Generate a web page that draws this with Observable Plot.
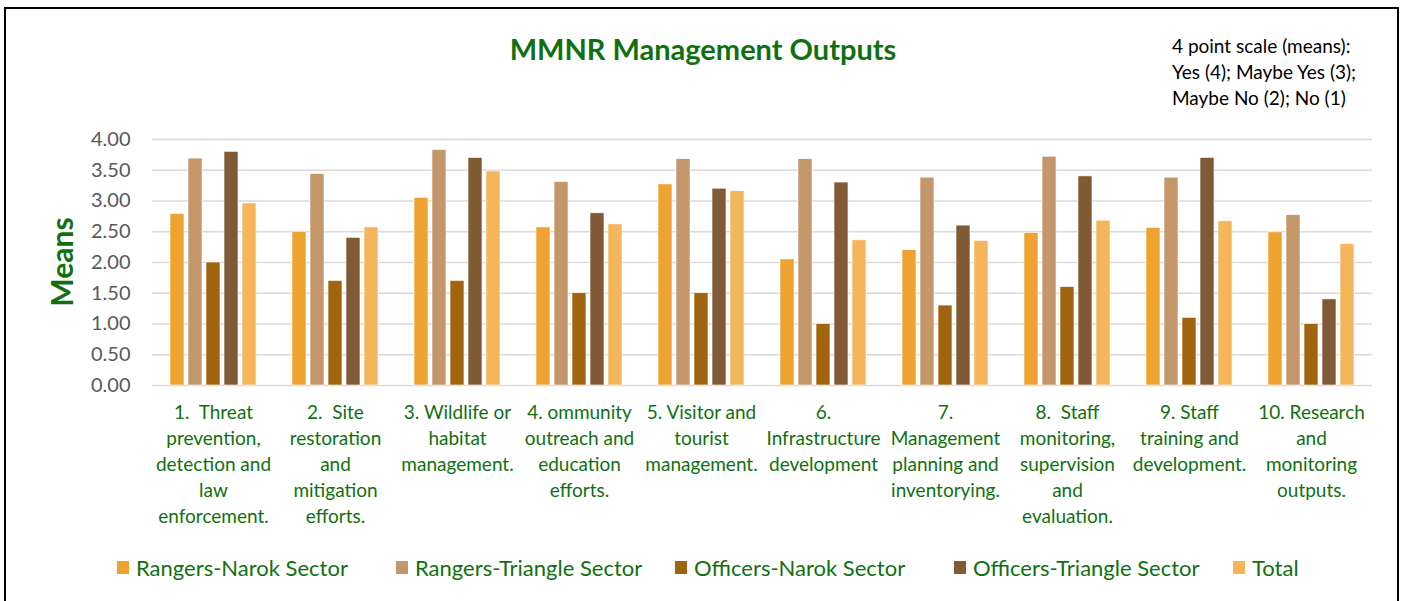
<!DOCTYPE html>
<html><head><meta charset="utf-8">
<script src="https://cdn.jsdelivr.net/npm/d3@7"></script>
<script src="https://cdn.jsdelivr.net/npm/@observablehq/plot@0.6"></script>
<style>
body{margin:0;background:#fff;font-family:Lato,"Open Sans",sans-serif;}
#wrap{position:relative;width:1406px;height:601px;overflow:hidden;background:#fff;}
#frame{position:absolute;left:4px;top:7px;width:1395px;height:640px;border:2px solid #000;box-sizing:border-box;pointer-events:none;}
#chart{position:absolute;left:0;top:0;}
#title{position:absolute;left:0;width:1406px;top:31px;text-align:center;font-weight:700;font-size:29px;color:#107010;}
#note{position:absolute;left:1172px;top:33px;font-size:19px;line-height:26px;color:#000;}
#ylab{position:absolute;left:61px;top:262px;transform:translate(-50%,-50%) rotate(-90deg);font-weight:700;font-size:30px;color:#107010;white-space:nowrap;}
#legend{position:absolute;left:117px;top:554px;display:flex;font-size:22px;color:#107010;}
.item{width:279px;display:flex;align-items:center;white-space:nowrap;}
.sw{width:12px;height:13px;margin-right:7px;flex:none;}
</style>
</head><body>
<div id="wrap">
  <div id="chart"></div>
  <div id="title"></div>
  <div id="note"></div>
  <div id="ylab"></div>
  <div id="legend"></div>
  <div id="frame"></div>
</div>
<script>
const titleText = "MMNR Management Outputs";
const noteLines = ["4 point scale (means):", "Yes (4); Maybe Yes (3);", "Maybe No (2); No (1)"];
const yLabel = "Means";

const categories = [
  "1. Threat prevention, detection and law enforcement.",
  "2. Site restoration and mitigation efforts.",
  "3. Wildlife or habitat management.",
  "4. ommunity outreach and education efforts.",
  "5. Visitor and tourist management.",
  "6. Infrastructure development",
  "7. Management planning and inventorying.",
  "8. Staff monitoring, supervision and evaluation.",
  "9. Staff training and development.",
  "10. Research and monitoring outputs."
];
const tickLabels = [
  "1.  Threat\nprevention,\ndetection and\nlaw\nenforcement.",
  "2.  Site\nrestoration\nand\nmitigation\nefforts.",
  "3. Wildlife or\nhabitat\nmanagement.",
  "4. ommunity\noutreach and\neducation\nefforts.",
  "5. Visitor and\ntourist\nmanagement.",
  "6.\nInfrastructure\ndevelopment",
  "7.\nManagement\nplanning and\ninventorying.",
  "8.  Staff\nmonitoring,\nsupervision\nand\nevaluation.",
  "9. Staff\ntraining and\ndevelopment.",
  "10. Research\nand\nmonitoring\noutputs."
];
const series = ["Rangers-Narok Sector", "Rangers-Triangle Sector", "Officers-Narok Sector", "Officers-Triangle Sector", "Total"];
const colors = ["#EEA22F", "#C4976B", "#A0640E", "#805A35", "#F4B55B"];

const rangersNarok     = [2.79, 2.50, 3.05, 2.57, 3.27, 2.05, 2.20, 2.48, 2.56, 2.49];
const rangersTriangle  = [3.69, 3.44, 3.83, 3.31, 3.68, 3.68, 3.38, 3.72, 3.38, 2.77];
const officersNarok    = [2.00, 1.70, 1.70, 1.50, 1.50, 1.00, 1.30, 1.60, 1.10, 1.00];
const officersTriangle = [3.80, 2.40, 3.70, 2.80, 3.20, 3.30, 2.60, 3.40, 3.70, 1.40];
const total            = [2.96, 2.57, 3.48, 2.62, 3.16, 2.36, 2.35, 2.68, 2.67, 2.30];

const yTicks = [0, 0.5, 1, 1.5, 2, 2.5, 3, 3.5, 4];

const seriesValues = [rangersNarok, rangersTriangle, officersNarok, officersTriangle, total];
const rows = [];
categories.forEach((c, i) => series.forEach((s, j) => rows.push({category: c, series: s, value: seriesValues[j][i]})));
const labelMap = new Map(categories.map((c, i) => [c, tickLabels[i]]));

const chart = Plot.plot({
  width: 1406, height: 601,
  marginLeft: 152, marginRight: 34, marginTop: 139, marginBottom: 216,
  style: {fontFamily: "Lato, 'Open Sans', sans-serif", background: "transparent"},
  fx: {domain: categories, padding: 0, label: null},
  x: {domain: series, axis: null, paddingInner: 0.21, paddingOuter: 0.865},
  y: {domain: [0, 4], label: null},
  color: {domain: series, range: colors},
  marks: [
    Plot.ruleY(yTicks, {stroke: "#D9D9D9", strokeWidth: 1.6}),
    Plot.barY(rows, {fx: "category", x: "series", y: "value", fill: "series", stroke: "#fff", strokeWidth: 0.6}),
    Plot.axisY({ticks: yTicks, tickFormat: d => d.toFixed(2), tickSize: 0, tickPadding: 22, fontSize: 20, fill: "#595959", label: null}),
    Plot.axisFx({anchor: "bottom", tickSize: 0, tickPadding: 15, fontSize: 19, fill: "#107010", lineHeight: 1.37, tickFormat: d => labelMap.get(d), label: null})
  ]
});
document.getElementById("chart").appendChild(chart);

document.getElementById("title").textContent = titleText;
document.getElementById("note").innerHTML = noteLines.map(l => `<div>${l}</div>`).join("");
document.getElementById("ylab").textContent = yLabel;
const lg = document.getElementById("legend");
series.forEach((s, i) => {
  const it = document.createElement("div"); it.className = "item";
  const sw = document.createElement("span"); sw.className = "sw"; sw.style.background = colors[i];
  const tx = document.createElement("span"); tx.textContent = s;
  it.appendChild(sw); it.appendChild(tx); lg.appendChild(it);
});
</script>
</body></html>
